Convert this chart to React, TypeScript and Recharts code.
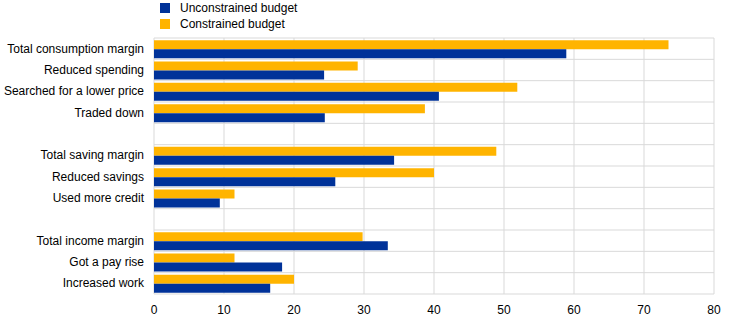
import React from "react";
import { BarChart, Bar, XAxis, YAxis, CartesianGrid, Legend } from "recharts";

const categories = [
  "Total consumption margin",
  "Reduced spending",
  "Searched for a lower price",
  "Traded down",
  " ",
  "Total saving margin",
  "Reduced savings",
  "Used more credit",
  "  ",
  "Total income margin",
  "Got a pay rise",
  "Increased work",
];

const unconstrained = [58.9, 24.3, 40.7, 24.4, null, 34.3, 25.9, 9.4, null, 33.4, 18.3, 16.6];
const constrained = [73.5, 29.1, 51.9, 38.7, null, 48.9, 40.0, 11.5, null, 29.8, 11.5, 20.0];
const xTicks = [0, 10, 20, 30, 40, 50, 60, 70, 80];

const BLUE = "#003299";
const ORANGE = "#ffb400";
const FONT = "'Liberation Sans', Arial, sans-serif";

const data = categories.map((name, i) => ({
  name,
  unconstrained: unconstrained[i],
  constrained: constrained[i],
}));

const legendItems = [
  { label: "Unconstrained budget", color: BLUE },
  { label: "Constrained budget", color: ORANGE },
];

function renderLegend() {
  return (
    <div style={{ fontFamily: FONT, fontSize: 12, color: "#000", lineHeight: "16px" }}>
      {legendItems.map((it) => (
        <div key={it.label} style={{ display: "flex", alignItems: "center", height: 16 }}>
          <span style={{ display: "inline-block", width: 10, height: 10, background: it.color, marginRight: 10 }} />
          <span>{it.label}</span>
        </div>
      ))}
    </div>
  );
}

function CategoryTick({ x, y, payload }: any) {
  return (
    <text x={x} y={y} dy={4} textAnchor="end" fill="#000" fontSize={12} fontFamily={FONT}>
      {payload.value}
    </text>
  );
}

export default function App() {
  return (
    <div style={{ position: "absolute", left: 0, top: 0, background: "#fff" }}>
      <BarChart
        width={744}
        height={321}
        data={data}
        layout="vertical"
        margin={{ top: 6, right: 30, bottom: 0, left: 0 }}
        barCategoryGap="10%"
        barGap={0}
      >
        <CartesianGrid
          stroke="#d9d9d9"
          horizontalCoordinatesGenerator={({ offset }: any) =>
            Array.from({ length: categories.length + 1 }, (_, i) => offset.top + (i * offset.height) / categories.length)
          }
        />
        <XAxis
          type="number"
          domain={[0, 80]}
          ticks={xTicks}
          height={27}
          axisLine={false}
          tickLine={false}
          tickSize={0}
          tickMargin={11}
          tick={{ fill: "#000", fontSize: 12, fontFamily: FONT }}
        />
        <YAxis
          type="category"
          dataKey="name"
          width={154}
          axisLine={false}
          tickLine={false}
          tickSize={0}
          tickMargin={10}
          interval={0}
          tick={<CategoryTick />}
        />
        <Legend
          content={renderLegend}
          layout="horizontal"
          verticalAlign="top"
          align="left"
          height={32}
          wrapperStyle={{ top: 0, left: 160, width: 200 }}
        />
        <Bar dataKey="constrained" fill={ORANGE} isAnimationActive={false} />
        <Bar dataKey="unconstrained" fill={BLUE} isAnimationActive={false} />
      </BarChart>
    </div>
  );
}
